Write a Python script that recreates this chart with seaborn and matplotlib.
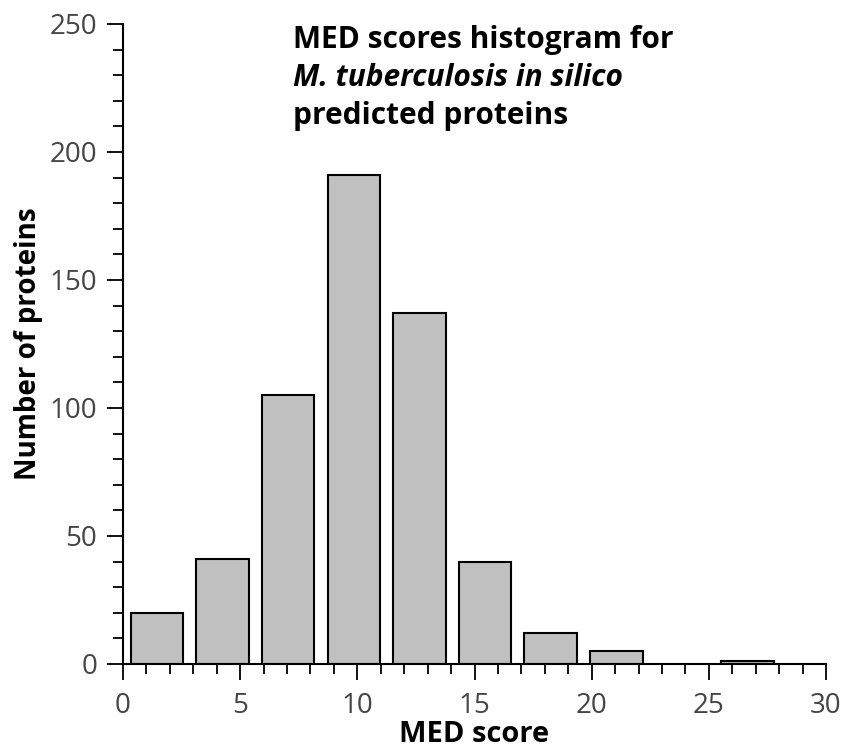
import matplotlib
matplotlib.use("Agg")
import matplotlib.pyplot as plt
import seaborn as sns
import pandas as pd
from matplotlib.ticker import MultipleLocator

# Data
bin_centers = [1.45, 4.25, 7.05, 9.85, 12.65, 15.45, 18.25, 21.05, 26.65]
counts = [20, 41, 105, 191, 137, 40, 12, 5, 1]
x_ticks = [0, 5, 10, 15, 20, 25, 30]
y_ticks = [0, 50, 100, 150, 200, 250]
title_lines = ["MED scores histogram for", "M. tuberculosis in silico", "predicted proteins"]

df = pd.DataFrame({"score": bin_centers, "count": counts})

sns.set_style("ticks")
plt.rcParams["font.family"] = ["Open Sans", "DejaVu Sans"]

fig = plt.figure(figsize=(8.46, 7.48), dpi=100)
ax = fig.add_axes([123/846, 84/748, 703/846, 640/748])

sns.barplot(data=df, x="score", y="count", native_scale=True, width=0.8,
            color="#c0c0c0", edgecolor="black", linewidth=1.5, saturation=1,
            ax=ax)

ax.set_xlim(0, 30)
ax.set_ylim(0, 250)
ax.set_xticks(x_ticks)
ax.set_yticks(y_ticks)
ax.xaxis.set_minor_locator(MultipleLocator(1))
ax.yaxis.set_minor_locator(MultipleLocator(10))
sns.despine(ax=ax)
for s in ["left", "bottom"]:
    ax.spines[s].set_linewidth(1.5)
    ax.spines[s].set_color("black")

ax.tick_params(which="major", length=11.5, width=1.3, color="black",
               labelsize=20, labelcolor="#454545", direction="out")
ax.tick_params(axis="x", which="major", pad=9)
ax.tick_params(axis="y", which="major", pad=7)
ax.tick_params(which="minor", length=7, width=1.3, color="black", direction="out")

ax.set_xlabel("MED score", fontsize=21, fontweight="bold", labelpad=0, color="black")
ax.set_ylabel("Number of proteins", fontsize=20, fontweight="bold", labelpad=5, color="black")

styles = ["normal", "italic", "normal"]
baselines = [0.962, 0.903, 0.844]
for line, st, yb in zip(title_lines, styles, baselines):
    ax.text(0.242, yb, line, transform=ax.transAxes, color="black",
            fontsize=21.5, fontweight="bold", fontstyle=st, ha="left", va="baseline")

fig.savefig("out.png", dpi=100)
